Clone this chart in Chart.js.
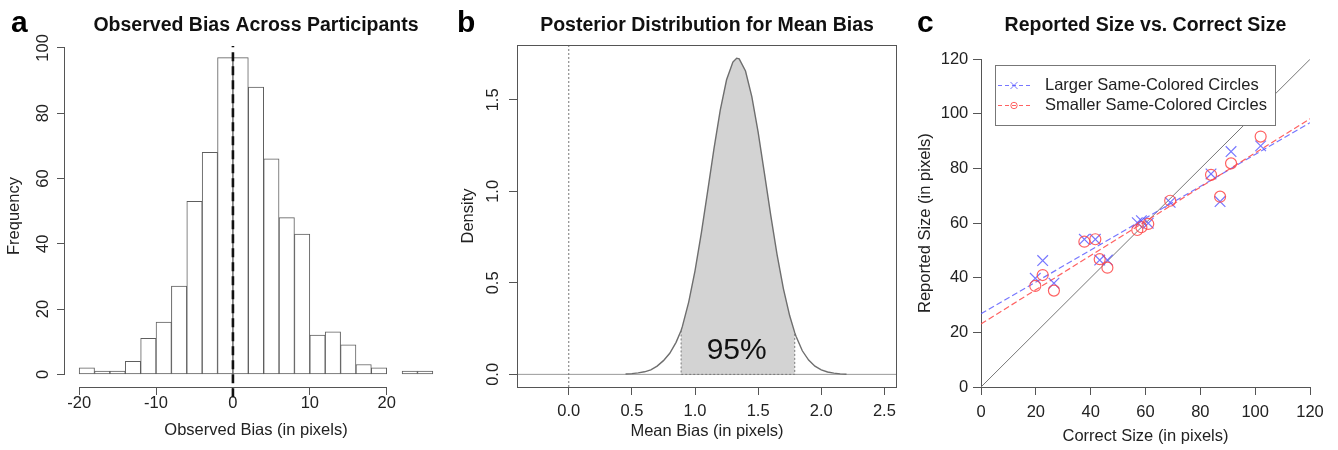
<!DOCTYPE html>
<html>
<head>
<meta charset="utf-8">
<script src="https://cdn.jsdelivr.net/npm/chart.js@4.4.1/dist/chart.umd.min.js"></script>
<style>
  html, body { margin: 0; padding: 0; background: #fff; }
  #wrap { position: relative; width: 1338px; height: 450px; }
  canvas { position: absolute; top: 0; }
</style>
</head>
<body>
<div id="wrap">
  <canvas id="histChart" width="452" height="450" style="left:0"></canvas>
  <canvas id="postChart" width="453" height="450" style="left:452px"></canvas>
  <canvas id="sizeChart" width="433" height="450" style="left:905px"></canvas>
</div>
<script>
// Panel a: histogram of observed bias (bins of width 2)
const biasBinCenters = [-19, -17, -15, -13, -11, -9, -7, -5, -3, -1, 1, 3, 5, 7, 9, 11, 13, 15, 17, 19, 21, 23, 25];
const biasCounts = [2, 1, 1, 4, 11, 16, 27, 53, 68, 97, 97, 88, 66, 48, 43, 12, 13, 9, 3, 2, null, 1, 1];
const biasTicks = [-20, -10, 0, 10, 20];
const biasTickLabels = ['-20', '-10', '0', '10', '20'];
const freqTicks = [0, 20, 40, 60, 80, 100];
const freqTickLabels = ['0', '20', '40', '60', '80', '100'];
const zeroBiasSpan = [-7, 100.6];

// Panel b: posterior density of the mean bias
const meanBiasX = [0.45, 0.50, 0.55, 0.60, 0.65, 0.70, 0.75, 0.80, 0.85, 0.89, 0.90, 0.95, 1.00, 1.05, 1.10,
  1.15, 1.20, 1.25, 1.30, 1.33, 1.35, 1.40, 1.45, 1.50, 1.55, 1.60, 1.65, 1.70, 1.75, 1.79, 1.80,
  1.85, 1.90, 1.95, 2.00, 2.05, 2.10, 2.15, 2.20];
const meanBiasDensity = [0.002, 0.004, 0.008, 0.014, 0.025, 0.045, 0.075, 0.115, 0.175, 0.240, 0.262, 0.395, 0.566, 0.772, 1.000,
  1.232, 1.444, 1.610, 1.707, 1.728, 1.724, 1.658, 1.518, 1.324, 1.099, 0.869, 0.654, 0.469, 0.320, 0.228, 0.208,
  0.129, 0.078, 0.045, 0.025, 0.013, 0.007, 0.003, 0.001];
const credibleInterval = [0.89, 1.79];
const credibleLabel = '95%';
const credibleLabelPos = [1.33, 0.086];
const meanBiasTicks = [0, 0.5, 1, 1.5, 2, 2.5];
const meanBiasTickLabels = ['0.0', '0.5', '1.0', '1.5', '2.0', '2.5'];
const densityTicks = [0, 0.5, 1, 1.5];
const densityTickLabels = ['0.0', '0.5', '1.0', '1.5'];

// Panel c: reported vs correct size
const correctSize = [19.8, 22.5, 26.6, 37.7, 41.7, 43.3, 46.1, 57.0, 58.5, 61.0, 69.0, 83.9, 87.2, 91.2, 102.0];
const reportedLarger = [39.8, 46.3, 38.0, 54.1, 54.1, 46.5, 46.5, 60.2, 60.9, 60.0, 67.6, 78.0, 67.9, 86.2, 88.3];
const reportedSmaller = [37.0, 41.0, 35.3, 53.2, 54.1, 46.8, 43.7, 57.5, 58.5, 59.7, 68.2, 77.7, 69.7, 81.9, 91.7];
const fitX = [0, 120];
const fitLarger = [26.8, 96.8];
const fitSmaller = [23.1, 98.2];
const sizeTicks = [0, 20, 40, 60, 80, 100, 120];
const sizeTickLabels = ['0', '20', '40', '60', '80', '100', '120'];

const FONT = '"Liberation Sans", Arial, Helvetica, sans-serif';
const BLUE = 'rgba(85, 85, 255, 0.8)';
const RED = 'rgba(255, 70, 70, 0.85)';
const AXIS = '#555';

Chart.defaults.font.family = FONT;
Chart.defaults.font.size = 16.5;
Chart.defaults.color = '#222';

const pts = (xs, ys) => xs.map((x, i) => ({ x: x, y: ys[i] }));

// R-like axis: fixed tick values, outward tick marks, fixed box size
function rAxis(o) {
  return {
    type: 'linear', min: o.min, max: o.max, bounds: 'data', offset: false,
    grid: { display: true, drawOnChartArea: false, drawTicks: true, tickLength: 8, color: AXIS, offset: false },
    border: { display: !!o.border, color: AXIS, width: 1 },
    ticks: {
      autoSkip: false, padding: o.pad, color: '#222',
      minRotation: o.rot || 0, maxRotation: o.rot || 0,
      crossAlign: o.rot ? 'center' : 'near',
      callback: (v, i) => o.labels[i]
    },
    afterBuildTicks: s => { s.ticks = o.ticks.map(v => ({ value: v })); },
    afterFit: s => {
      if (o.width) s.width = o.width;
      if (o.height) s.height = o.height;
    },
    title: { display: true, text: o.title, color: '#222', padding: o.titlePad }
  };
}

function panelTitle(text, padBottom) {
  return {
    display: true, text: text, fullSize: false, color: '#111',
    font: { size: 19.5, weight: 'bold' },
    padding: { top: 14, bottom: padBottom }
  };
}

// panel letter, plus optional R-style axis lines or box
function decor(letter, letterX, mode) {
  return {
    id: 'decor',
    afterDraw(chart) {
      const { ctx, chartArea: a, scales } = chart;
      ctx.save();
      ctx.strokeStyle = AXIS;
      ctx.lineWidth = 1;
      if (mode === 'span') {
        const xt = scales.x.ticks, yt = scales.y.ticks;
        const yb = Math.round(a.bottom) + 0.5, xl = Math.round(a.left) - 0.5;
        ctx.beginPath();
        ctx.moveTo(scales.x.getPixelForValue(xt[0].value), yb);
        ctx.lineTo(scales.x.getPixelForValue(xt[xt.length - 1].value), yb);
        ctx.moveTo(xl, scales.y.getPixelForValue(yt[0].value));
        ctx.lineTo(xl, scales.y.getPixelForValue(yt[yt.length - 1].value));
        ctx.stroke();
      } else if (mode === 'box') {
        ctx.strokeRect(Math.round(a.left) + 0.5, Math.round(a.top) + 0.5,
          Math.round(a.width) - 1, Math.round(a.height));
      }
      ctx.fillStyle = '#000';
      ctx.font = 'bold 30px ' + FONT;
      ctx.textAlign = 'left';
      ctx.textBaseline = 'alphabetic';
      ctx.fillText(letter, letterX, 32);
      ctx.restore();
    }
  };
}

// ---------- Panel a ----------
new Chart(document.getElementById('histChart'), {
  type: 'bar',
  data: {
    datasets: [{
      type: 'bar',
      data: pts(biasBinCenters, biasCounts),
      backgroundColor: '#fff',
      borderColor: '#5e5e5e',
      borderWidth: 1,
      borderSkipped: false,
      barPercentage: 1,
      categoryPercentage: 1,
      order: 2
    }, {
      type: 'line',
      data: [{ x: 0, y: zeroBiasSpan[0] }, { x: 0, y: zeroBiasSpan[1] }],
      borderColor: '#111',
      borderWidth: 2.6,
      borderDash: [9, 5],
      pointRadius: 0,
      clip: false,
      order: 1
    }]
  },
  options: {
    responsive: false,
    animation: false,
    events: [],
    layout: { padding: { left: 0, right: 5, top: 0, bottom: 0 } },
    scales: {
      x: rAxis({ min: -21.84, max: 27.84, ticks: biasTicks, labels: biasTickLabels, pad: -1, height: 63,
        title: 'Observed Bias (in pixels)', titlePad: { top: 0, bottom: 10 } }),
      y: rAxis({ min: -3.88, max: 100.88, ticks: freqTicks, labels: freqTickLabels, pad: 0, rot: 90, width: 65,
        title: 'Frequency', titlePad: { top: 5, bottom: 0 } })
    },
    plugins: {
      legend: { display: false },
      tooltip: { enabled: false },
      title: panelTitle('Observed Bias Across Participants', 7.6)
    }
  },
  plugins: [decor('a', 11, 'span')]
});

// ---------- Panel b ----------
const ciLo = meanBiasX.indexOf(credibleInterval[0]);
const ciHi = meanBiasX.indexOf(credibleInterval[1]);
const ciX = meanBiasX.slice(ciLo, ciHi + 1);
const ciY = meanBiasDensity.slice(ciLo, ciHi + 1);

const credibleText = {
  id: 'credibleText',
  afterDatasetsDraw(chart) {
    const { ctx, scales } = chart;
    ctx.save();
    ctx.fillStyle = '#111';
    ctx.font = '30px ' + FONT;
    ctx.textAlign = 'center';
    ctx.textBaseline = 'alphabetic';
    ctx.fillText(credibleLabel, scales.x.getPixelForValue(credibleLabelPos[0]), scales.y.getPixelForValue(credibleLabelPos[1]));
    ctx.restore();
  }
};

new Chart(document.getElementById('postChart'), {
  type: 'line',
  data: {
    datasets: [{
      // zero line
      data: [{ x: -0.41, y: 0 }, { x: 2.6, y: 0 }],
      borderColor: '#999', borderWidth: 1, pointRadius: 0, order: 6
    }, {
      // shaded 95% interval
      data: pts(ciX, ciY),
      borderWidth: 0, pointRadius: 0, fill: 'origin', backgroundColor: '#d3d3d3', order: 5
    }, {
      // dotted interval edges
      data: [{ x: credibleInterval[0], y: ciY[0] }, { x: credibleInterval[0], y: 0 },
             { x: credibleInterval[1], y: 0 }, { x: credibleInterval[1], y: ciY[ciY.length - 1] }],
      borderColor: '#777', borderWidth: 1, borderDash: [2, 2], pointRadius: 0, order: 4
    }, {
      // vertical reference at zero
      data: [{ x: 0, y: -0.069 }, { x: 0, y: 1.8 }],
      borderColor: '#777', borderWidth: 1, borderDash: [2, 2], pointRadius: 0, order: 3
    }, {
      // posterior density
      data: pts(meanBiasX, meanBiasDensity),
      borderColor: '#6e6e6e', borderWidth: 1.4, pointRadius: 0, order: 1
    }]
  },
  options: {
    responsive: false,
    animation: false,
    events: [],
    layout: { padding: { left: 0, right: 8, top: 0, bottom: 0 } },
    elements: { line: { tension: 0 } },
    scales: {
      x: rAxis({ min: -0.41, max: 2.6, ticks: meanBiasTicks, labels: meanBiasTickLabels, pad: 7, height: 63,
        title: 'Mean Bias (in pixels)', titlePad: { top: 0, bottom: 9 } }),
      y: rAxis({ min: -0.069, max: 1.8, ticks: densityTicks, labels: densityTickLabels, pad: 4, rot: 90, width: 65,
        title: 'Density', titlePad: { top: 6.6, bottom: 0 } })
    },
    plugins: {
      legend: { display: false },
      tooltip: { enabled: false },
      title: panelTitle('Posterior Distribution for Mean Bias', 7.6)
    }
  },
  plugins: [decor('b', 5, 'box'), credibleText]
});

// ---------- Panel c ----------
const sizeLegend = {
  id: 'sizeLegend',
  afterDatasetsDraw(chart) {
    const { ctx, chartArea: a } = chart;
    const left = Math.round(a.left + 14), top = Math.round(a.top + 6), w = 280, h = 60;
    ctx.save();
    ctx.fillStyle = '#fff';
    ctx.fillRect(left, top, w, h);
    ctx.strokeStyle = '#777';
    ctx.lineWidth = 1;
    ctx.strokeRect(left + 0.5, top + 0.5, w, h);
    [3, 4].forEach((di, row) => {
      const ds = chart.data.datasets[di];
      const y = top + 20.5 + row * 20;
      ctx.strokeStyle = ds.borderColor;
      ctx.lineWidth = 1;
      ctx.setLineDash([4, 3]);
      ctx.beginPath();
      ctx.moveTo(left + 3, y);
      ctx.lineTo(left + 36, y);
      ctx.stroke();
      ctx.setLineDash([]);
      ctx.fillStyle = 'rgba(0,0,0,0)';
      Chart.helpers.drawPoint(ctx, { pointStyle: ds.pointStyle, radius: ds.pointStyle === 'circle' ? 3.2 : 5, borderWidth: 1 }, left + 19, y);
      ctx.fillStyle = '#222';
      ctx.font = '16.5px ' + FONT;
      ctx.textAlign = 'left';
      ctx.textBaseline = 'middle';
      ctx.fillText(ds.label, left + 50, y);
    });
    ctx.restore();
  }
};

new Chart(document.getElementById('sizeChart'), {
  type: 'scatter',
  data: {
    datasets: [{
      type: 'line', label: 'identity',
      data: [{ x: 0, y: 0 }, { x: 120, y: 120 }],
      borderColor: '#777', borderWidth: 1, pointRadius: 0, order: 5
    }, {
      type: 'line', label: 'fit larger',
      data: pts(fitX, fitLarger),
      borderColor: BLUE, borderWidth: 1.2, borderDash: [6, 3], pointRadius: 0, order: 4
    }, {
      type: 'line', label: 'fit smaller',
      data: pts(fitX, fitSmaller),
      borderColor: RED, borderWidth: 1.2, borderDash: [6, 3], pointRadius: 0, order: 3
    }, {
      label: 'Larger Same-Colored Circles',
      data: pts(correctSize, reportedLarger),
      pointStyle: 'crossRot', pointRadius: 7.5, borderColor: BLUE, borderWidth: 1.2,
      backgroundColor: 'rgba(0,0,0,0)', order: 2
    }, {
      label: 'Smaller Same-Colored Circles',
      data: pts(correctSize, reportedSmaller),
      pointStyle: 'circle', pointRadius: 5.5, borderColor: RED, borderWidth: 1.2,
      backgroundColor: 'rgba(0,0,0,0)', order: 1
    }]
  },
  options: {
    responsive: false,
    animation: false,
    events: [],
    layout: { padding: { left: 0, right: 28, top: 0, bottom: 0 } },
    scales: {
      x: rAxis({ min: 0, max: 120, ticks: sizeTicks, labels: sizeTickLabels, pad: 7.8, height: 63, border: true,
        title: 'Correct Size (in pixels)', titlePad: { top: 0, bottom: 4 } }),
      y: rAxis({ min: 0, max: 120, ticks: sizeTicks, labels: sizeTickLabels, pad: 4.7, width: 76, border: true,
        title: 'Reported Size (in pixels)', titlePad: { top: 10.2, bottom: 0 } })
    },
    plugins: {
      legend: { display: false },
      tooltip: { enabled: false },
      title: panelTitle('Reported Size vs. Correct Size', 21.9)
    }
  },
  plugins: [decor('c', 12, 'none'), sizeLegend]
});
</script>
</body>
</html>
